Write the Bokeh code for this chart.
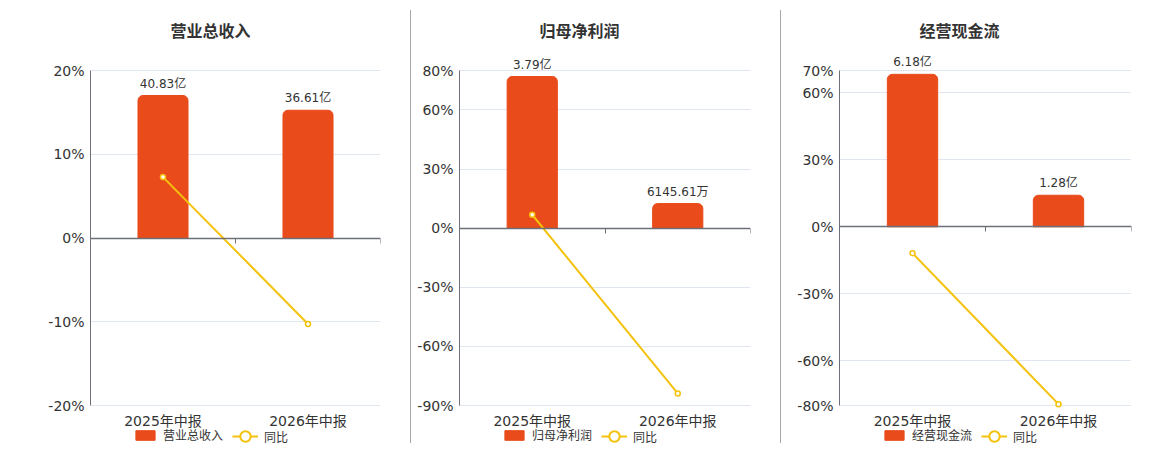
from bokeh.plotting import figure
from bokeh.models import (Range1d, LinearAxis, FixedTicker, PrintfTickFormatter,
                          Legend, LegendItem, Div)
from bokeh.layouts import row
from bokeh.embed import file_html
from bokeh.resources import INLINE
from bokeh.core.properties import value

# ---------------- data ----------------
categories = ["2025年中报", "2026年中报"]
titles = ["营业总收入", "归母净利润", "经营现金流"]
yoy_name = "同比"

revenue = [40.83, 36.61]            # 亿
revenue_labels = ["40.83亿", "36.61亿"]
revenue_yoy = [7.27, -10.26]        # %

profit = [3.79, 0.614561]           # 亿
profit_labels = ["3.79亿", "6145.61万"]
profit_yoy = [6.8, -83.9]

cash = [6.18, 1.28]                 # 亿
cash_labels = ["6.18亿", "1.28亿"]
cash_yoy = [-11.8, -79.4]

revenue_ticks = [-20, -10, 0, 10, 20]
profit_ticks = [-90, -60, -30, 0, 30, 60, 80]
cash_ticks = [-80, -60, -30, 0, 30, 60, 70]

# hidden amount-axis maxima (aligned with 0% and the top tick)
revenue_amt_max = 48.0
profit_amt_max = 3.94
cash_amt_max = 6.335

# ---------------- style ----------------
FONT = "DejaVu Sans, 'Noto Sans CJK SC'"
BAR = "#E94B1B"
YEL = "#F4C20D"
AXIS = "#6E7079"
GRID = "#E0E6F1"
TXT = "#333333"

AXIS_PX = 335      # pixel height of the tick span
HEAD = 15          # extra pixels above the top tick (room for bar labels)
FOOT = 40          # extra pixels below the bottom tick (category labels, legend)
TOP_BORDER = 55
HEIGHT = TOP_BORDER + HEAD + AXIS_PX + FOOT


def legend_style(lg):
    lg.orientation = "horizontal"
    lg.padding = 0
    lg.margin = 0
    lg.label_standoff = 6
    lg.label_height = 13
    lg.label_text_font = FONT
    lg.label_text_font_size = "12px"
    lg.label_text_color = TXT
    lg.background_fill_alpha = 0
    lg.border_line_color = None


def make_panel(title, amounts, labels, yoy, ticks, amt_max, width, left, right):
    lo, hi = ticks[0], ticks[-1]
    per_px = (hi - lo) / AXIS_PX
    top = hi + HEAD * per_px
    bottom = lo - FOOT * per_px
    p = figure(width=width, height=HEIGHT, x_range=Range1d(0, len(categories)),
               y_range=Range1d(bottom, top), min_border_left=left,
               min_border_right=right, min_border_top=TOP_BORDER, min_border_bottom=0,
               x_axis_location=None, toolbar_location=None, output_backend="svg",
               title=title)
    p.outline_line_color = None
    p.background_fill_color = "white"
    p.border_fill_color = "white"
    k = amt_max / hi
    p.extra_y_ranges = {"amt": Range1d(bottom * k, top * k)}

    p.title.align = "left"
    p.title.offset = 80
    p.title.standoff = 30
    p.title.text_font = FONT
    p.title.text_font_size = "16px"
    p.title.text_font_style = "bold"
    p.title.text_color = TXT

    xs = [i + 0.5 for i in range(len(categories))]

    # grid
    p.xgrid.visible = False
    p.ygrid.ticker = FixedTicker(ticks=ticks)
    p.ygrid.grid_line_color = GRID
    p.ygrid.grid_line_width = 1

    # y axis
    ya = p.yaxis[0]
    ya.ticker = FixedTicker(ticks=ticks)
    ya.bounds = (lo, hi)
    ya.formatter = PrintfTickFormatter(format="%d%%")
    ya.axis_line_color = AXIS
    ya.major_tick_line_color = None
    ya.major_tick_out = 0
    ya.minor_tick_line_color = None
    ya.major_label_standoff = 6
    ya.major_label_text_font = FONT
    ya.major_label_text_font_size = "14px"
    ya.major_label_text_color = TXT

    # zero line axis with boundary ticks (ticks point down into the chart)
    za = LinearAxis(fixed_location=0,
                    ticker=FixedTicker(ticks=list(range(len(categories) + 1))))
    za.axis_line_color = AXIS
    za.axis_line_width = 1.5
    za.major_tick_line_color = AXIS
    za.major_tick_in = 5
    za.major_tick_out = 0
    za.minor_tick_line_color = None
    za.major_label_overrides = {i: " " for i in range(len(categories) + 1)}
    za.major_label_text_font_size = "1px"
    za.major_label_standoff = 0
    p.add_layout(za, "above")

    # category labels under the bottom tick
    p.text(x=xs, y=[lo] * len(xs), text=categories, y_offset=7,
           text_align="center", text_baseline="top", text_font=value(FONT),
           text_font_size="14px", text_color=TXT)

    # bars
    bars = p.vbar(x=xs, top=amounts, bottom=0, width=0.345, y_range_name="amt",
                  fill_color=BAR, line_color=BAR, border_radius=(5, 5, 0, 0))
    p.text(x=xs, y=amounts, text=labels, y_range_name="amt", y_offset=-5,
           text_align="center", text_baseline="bottom", text_font=value(FONT),
           text_font_size="12px", text_color=TXT)

    # yoy line
    ln = p.line(xs, yoy, line_color=YEL, line_width=2)
    p.scatter(xs, yoy, marker="circle", size=5, fill_color="white",
              line_color=YEL, line_width=1.5)
    leg_dot = p.scatter([-5], [0], marker="circle", size=11, fill_color="white",
                        line_color=YEL, line_width=2)

    lg_bar = Legend(items=[LegendItem(label=title, renderers=[bars])],
                    location=(43, 2), glyph_width=24, glyph_height=12)
    legend_style(lg_bar)
    p.add_layout(lg_bar)

    lg_line = Legend(items=[LegendItem(label=yoy_name, renderers=[ln, leg_dot])],
                     location=(142, -4), glyph_width=26, glyph_height=26)
    legend_style(lg_line)
    p.add_layout(lg_line)
    return p


p1 = make_panel(titles[0], revenue, revenue_labels, revenue_yoy, revenue_ticks,
                revenue_amt_max, 410, 90, 30)
p2 = make_panel(titles[1], profit, profit_labels, profit_yoy, profit_ticks,
                profit_amt_max, 369, 48, 30)
p3 = make_panel(titles[2], cash, cash_labels, cash_yoy, cash_ticks,
                cash_amt_max, 371, 58, 21)


def sep():
    return Div(text="", width=1, height=433, margin=(10, 0, 0, 0),
               styles={"background-color": "#A8A8A8"})


layout = row(p1, sep(), p2, sep(), p3)
open("out.html", "w").write(file_html(layout, INLINE))
